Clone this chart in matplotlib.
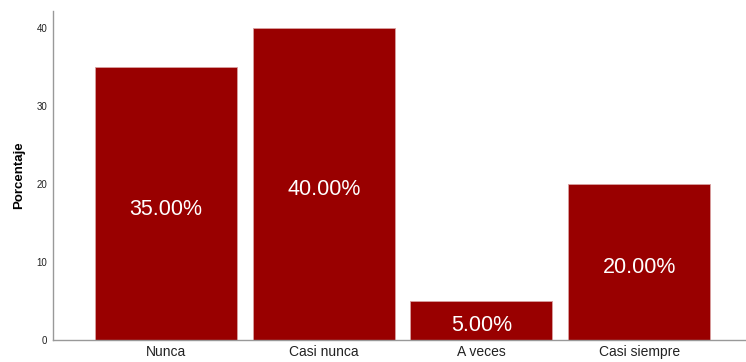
import matplotlib.pyplot as plt

categories = ["Nunca", "Casi nunca", "A veces", "Casi siempre"]
percentages = [35.0, 40.0, 5.0, 20.0]
y_ticks = [0, 10, 20, 30, 40]

fig = plt.figure(figsize=(7.46, 3.62), dpi=100)
ax = fig.add_axes([0.071, 0.061, 0.929, 0.909])

x = list(range(len(categories)))
bars = ax.bar(x, percentages, width=0.9, color="#990000", edgecolor="#d9a0a0", linewidth=0.6)

# value labels sit in the middle of each bar, nudged slightly down
for bar, value in zip(bars, percentages):
    ax.annotate(f"{value:.2f}%", (bar.get_x() + bar.get_width() / 2, value / 2),
                xytext=(0, -2.2), textcoords="offset points",
                ha="center", va="center_baseline", color="white", fontsize=15.5,
                family="Liberation Sans")

ax.set_xlim(-0.717, 3.678)
ax.set_ylim(0, 42.2)
ax.set_xticks(x)
ax.set_xticklabels(categories, fontsize=10, family="Liberation Sans", color="#222222")
ax.set_yticks(y_ticks)
ax.set_yticklabels([str(t) for t in y_ticks], fontsize=7, family="Liberation Sans", color="#222222")
ax.tick_params(axis="both", length=0, pad=4)
ax.set_ylabel("Porcentaje", fontsize=9.5, fontweight="bold", family="Liberation Sans", labelpad=8)

for side in ("top", "right"):
    ax.spines[side].set_visible(False)
for side in ("left", "bottom"):
    ax.spines[side].set_color("#999999")
    ax.spines[side].set_linewidth(1)

fig.savefig("out.png", dpi=100)
